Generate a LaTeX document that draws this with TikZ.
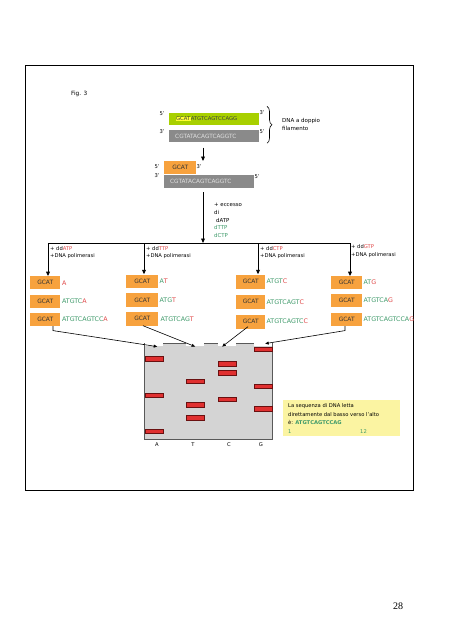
\documentclass[tikz,border=0pt]{standalone}
\usepackage{fontspec}
\setsansfont{DejaVu Sans}
\newfontfamily\timesf{Liberation Serif}
\usetikzlibrary{arrows.meta,calc,decorations.pathreplacing}
\definecolor{dgreen}{HTML}{3E9A6A}
\definecolor{dred}{HTML}{E04848}
\definecolor{limeg}{HTML}{A8D000}
\definecolor{primer}{HTML}{F7A23E}
\definecolor{strand}{HTML}{8A8A8A}
\definecolor{gelgray}{HTML}{D4D4D4}
\definecolor{bandred}{HTML}{E03030}
\definecolor{bandedge}{HTML}{6A1010}
\definecolor{notey}{HTML}{FBF4A2}
\definecolor{hl}{HTML}{FFFF33}
\newcommand\gseq[1]{\textcolor{dgreen}{#1}}
\newcommand\rseq[1]{\textcolor{dred}{#1}}
\begin{document}
\begin{tikzpicture}[x=1pt,y=-1pt,
  every node/.style={font=\sffamily\fontsize{5.2}{6.2}\selectfont, inner sep=0pt},
  lbl/.style={anchor=west},
  gcat/.style={fill=primer, anchor=north west, minimum width=30pt, minimum height=12.8pt, font=\sffamily\fontsize{5.9}{7}\selectfont, text=black!80},
  colseq/.style={anchor=west, font=\sffamily\fontsize{6.3}{7}\selectfont},
  seqbox/.style={anchor=north west, minimum width=90pt, minimum height=12.5pt},
  arr/.style={line width=0.9pt, -{Triangle[length=4.5pt,width=3.8pt]}},
  thinarr/.style={line width=0.6pt, -{Triangle[length=3.5pt,width=3pt]}},
  well/.style={fill=white, anchor=north west, minimum width=18pt, minimum height=4pt},
  band/.style={fill=bandred, draw=bandedge, line width=0.5pt, minimum width=18pt, minimum height=4.5pt},
  seqtxt/.style={anchor=west, text=black!75},
  ecc/.style={anchor=west, font=\sffamily\fontsize{5.4}{6.2}\selectfont}
]
\useasboundingbox (0,0) rectangle (452,640);
\fill[white] (0,0) rectangle (452,640);
\draw[line width=0.8pt] (25,65) rectangle (413,490);

\node[lbl, font=\sffamily\fontsize{5.8}{7}\selectfont] (fig) at (71,94) {Fig. 3};

% double strand DNA
\node[seqbox, fill=limeg] (ds1) at (169,112.5) {};
\node[seqtxt, font=\sffamily\fontsize{5.3}{6.2}\selectfont] (ds1t) at ($(ds1.west)+(6.5,0)$) {\setlength\fboxsep{0.4pt}\colorbox{hl}{GCAT}ATGTCAGTCCAGG};
\node[seqbox, fill=strand] (ds2) at (169,129.6) {};
\node[seqtxt, text=white!88!black, font=\sffamily\fontsize{5.8}{6.2}\selectfont] (ds2t) at ($(ds2.west)+(6,0)$) {CGTATACAGTCAGGTC};
\node (p1) at (162,113.6) {5'};
\node (p2) at (262,113) {3'};
\node (p3) at (162,131.4) {3'};
\node (p4) at (262,132.1) {5'};
\draw[decorate, decoration={brace, amplitude=5pt}, line width=0.6pt] (267,106.4) -- (267,143.2);
\node[lbl, font=\sffamily\fontsize{5.5}{6.2}\selectfont] (dd1) at (282,120.7) {DNA a doppio};
\node[lbl, font=\sffamily\fontsize{5.5}{6.2}\selectfont] (dd2) at (282,128.6) {filamento};

% primer annealed
\node[gcat, minimum width=32pt] (pr) at (164,161) {GCAT};
\node (p5) at (157,167.1) {5'};
\node (p6) at (199,167.1) {3'};
\node[seqbox, fill=strand] (tp) at (164,175) {};
\node[seqtxt, text=white!88!black, font=\sffamily\fontsize{5.8}{6.2}\selectfont] (tpt) at ($(tp.west)+(6,0)$) {CGTATACAGTCAGGTC};
\node (p7) at (157,176) {3'};
\node (p8) at (257,177.1) {5'};

\coordinate (a1s) at (203,147.5);
\draw[arr] (a1s) -- (pr.north -| a1s);

% split
\coordinate (split) at (203,243);
\draw[arr] ($(tp.south -| split)+(0,4.5)$) -- (split);
\begin{scope}
\clip (205,195) rectangle (260,238.5);
\node[ecc] (e1) at (214,204.6) {+ eccesso};
\node[ecc] (e2) at (214,212.5) {di};
\node[ecc] (e3) at (216,220) {dATP};
\node[ecc, text=dgreen] (e4) at (214,227.9) {dTTP};
\node[ecc, text=dgreen] (e5) at (214,235.9) {dCTP};
\end{scope}

\coordinate (bA) at (48,243);
\coordinate (bT) at (144,243);
\coordinate (bC) at (258,243);
\coordinate (bG) at (350,243);
\draw[line width=0.9pt] (bA) -- (bG);

\node[lbl] (lA1) at (50,248.2) {+ dd\rseq{ATP}};
\node[lbl] (lA2) at (50,256.4) {+DNA polimerasi};
\node[lbl] (lT1) at (146,248.2) {+ dd\rseq{TTP}};
\node[lbl] (lT2) at (146,256.4) {+DNA polimerasi};
\node[lbl] (lC1) at (260,248.2) {+ dd\rseq{CTP}};
\node[lbl] (lC2) at (260,256.4) {+DNA polimerasi};
\node[lbl] (lG1) at (351,246.4) {+ dd\rseq{GTP}};
\node[lbl] (lG2) at (351,254.6) {+DNA polimerasi};

% column A
\node[gcat] (a1) at (30,276.1) {GCAT};
\node[gcat] (a2) at (30,294.6) {GCAT};
\node[gcat] (a3) at (30,312.9) {GCAT};
\node[colseq] at ($(a1.east)+(1.5,0)$) {\rseq{A}};
\node[colseq] at ($(a2.east)+(1.5,0)$) {\gseq{ATGTC}\rseq{A}};
\node[colseq] at ($(a3.east)+(1.5,0)$) {\gseq{ATGTCAGTCC}\rseq{A}};
% column T
\node[gcat, minimum width=32pt, minimum height=13.5pt] (t1) at (126,274.3) {GCAT};
\node[gcat, minimum width=32pt, minimum height=13.5pt] (t2) at (126,292.9) {GCAT};
\node[gcat, minimum width=32pt, minimum height=13.5pt] (t3) at (126,311.8) {GCAT};
\node[colseq] at ($(t1.east)+(1,0)$) {\gseq{A}\rseq{T}};
\node[colseq] at ($(t2.east)+(1,0)$) {\gseq{ATG}\rseq{T}};
\node[colseq] at ($(t3.east)+(2,0)$) {\gseq{ATGTCAG}\rseq{T}};
% column C
\node[gcat, minimum width=29pt, minimum height=14pt] (c1) at (236,274.3) {GCAT};
\node[gcat, minimum width=29pt, minimum height=14pt] (c2) at (236,294.6) {GCAT};
\node[gcat, minimum width=29pt, minimum height=14pt] (c3) at (236,314.3) {GCAT};
\node[colseq] at ($(c1.east)+(1,0)$) {\gseq{ATGT}\rseq{C}};
\node[colseq] at ($(c2.east)+(1,0)$) {\gseq{ATGTCAGT}\rseq{C}};
\node[colseq] at ($(c3.east)+(1,0)$) {\gseq{ATGTCAGTC}\rseq{C}};
% column G
\node[gcat, minimum width=31pt] (g1) at (331,276.1) {GCAT};
\node[gcat, minimum width=31pt] (g2) at (331,293.9) {GCAT};
\node[gcat, minimum width=31pt] (g3) at (331,312.9) {GCAT};
\node[colseq] at ($(g1.east)+(1,0)$) {\gseq{AT}\rseq{G}};
\node[colseq] at ($(g2.east)+(1,0)$) {\gseq{ATGTCA}\rseq{G}};
\node[colseq] at ($(g3.east)+(1,0)$) {\gseq{ATGTCAGTCCA}\rseq{G}};

\draw[arr] (bA) -- (a1.north -| bA);
\draw[arr] (bT) -- (t1.north -| bT);
\draw[arr] (bC) -- (c1.north -| bC);
\draw[arr] (bG) -- (g1.north -| bG);

% gel
\node[fill=gelgray, draw=black!65, line width=0.8pt, anchor=north west, minimum width=128pt, minimum height=95.7pt] (gel) at (144,342.9) {};
\node[well] (wA) at (145,342.2) {};
\node[well] (wT) at (186,342.2) {};
\node[well] (wC) at (218,342.2) {};
\node[well] (wG) at (254,342.2) {};

\node[band] at (154,358.9) {};
\node[band] at (154,395) {};
\node[band] at (154,431.4) {};
\node[band] at (195,381.4) {};
\node[band] at (195,404.6) {};
\node[band] at (195,417.9) {};
\node[band] at (227,363.6) {};
\node[band] at (227,372.5) {};
\node[band] at (227,399.3) {};
\node[band] at (263,349.3) {};
\node[band] at (263,386.1) {};
\node[band] at (263,408.9) {};

\node (LA) at (157,445) {A};
\node (LT) at (193,445) {T};
\node (LC) at (229,445) {C};
\node (LG) at (261,445) {G};

\draw[thinarr] ($(a3.south west)+(23,0)$) -- ++(0,4.5) -- ($(wA.south)+(3,0)$);
\draw[thinarr] ($(t3.south west)+(17,0)$) -- (wT.south);
\draw[thinarr] ($(c3.south west)+(12,-2)$) -- ($(wC.south)+(-5,0)$);
\draw[thinarr] ($(g3.south west)+(14,0)$) -- ++(0,4.5) -- ($(wG.south)+(2,-3)$);

% note
\node[fill=notey, anchor=north west, minimum width=117pt, minimum height=35.7pt] (note) at (283,400) {};
\begin{scope}
\clip (note.north west) rectangle ($(note.south east)+(0,-2.4)$);
\node[lbl] (n1) at (288,406.5) {La sequenza di DNA letta};
\node[lbl] (n2) at (288,414.5) {direttamente dal basso verso l'alto};
\node[lbl] (n3) at (288,422.5) {è: \gseq{\bfseries ATGTCAGTCCAG}};
\node[lbl, text=dgreen] (n4) at (288,431.3) {1};
\node[lbl, text=dgreen] (n5) at (360,431.3) {12};
\end{scope}

\node[font=\timesf\fontsize{10}{12}\selectfont] (pg) at (398,606) {28};
\end{tikzpicture}
\end{document}
